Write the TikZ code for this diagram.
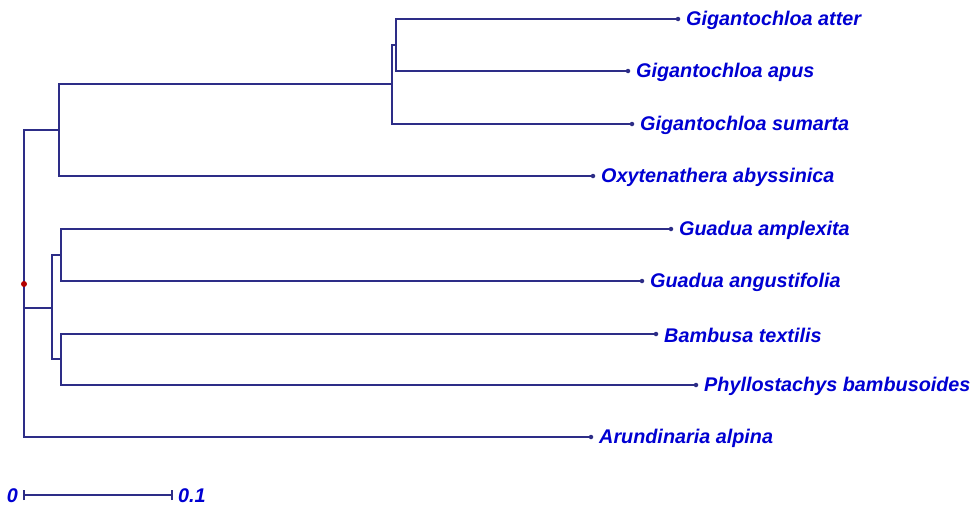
\documentclass[tikz,border=0pt]{standalone}
\usepackage{fontspec}
\setmainfont{Liberation Sans}
\definecolor{edge}{RGB}{45,45,135}
\definecolor{lab}{RGB}{0,0,210}
\definecolor{rootc}{RGB}{180,0,0}
\begin{document}
\begin{tikzpicture}[x=1pt,y=-1pt,
  branch/.style={draw=edge,line width=1.3pt},
  tipdot/.style={circle,fill=edge,inner sep=0pt,minimum size=4.5pt},
  taxon/.style={anchor=west,text=lab,font=\fontsize{19.8}{22}\selectfont\bfseries\itshape,inner sep=0pt},
  scalelab/.style={text=lab,font=\fontsize{19.8}{22}\selectfont\bfseries\itshape,inner sep=0pt}]
\useasboundingbox (0,0) rectangle (977,509);
% internal nodes
\coordinate (root) at (24,284);
\coordinate (A) at (59,130);
\coordinate (B) at (392,84);
\coordinate (C) at (396,45);
\coordinate (D) at (52,308);
\coordinate (E) at (61,255);
\coordinate (F) at (61,359);
% tips
\coordinate (atter) at (678,19);
\coordinate (apus) at (628,71);
\coordinate (sumarta) at (632,124);
\coordinate (oxy) at (593,176);
\coordinate (ampl) at (671,229);
\coordinate (angu) at (642,281);
\coordinate (bamb) at (656,334);
\coordinate (phyl) at (696,385);
\coordinate (arun) at (591,437);
% edges
\draw[branch] (root) |- (A);
\draw[branch] (root) |- (D);
\draw[branch] (root) |- (arun);
\draw[branch] (A) |- (B);
\draw[branch] (A) |- (oxy);
\draw[branch] (B) |- (C);
\draw[branch] (B) |- (sumarta);
\draw[branch] (C) |- (atter);
\draw[branch] (C) |- (apus);
\draw[branch] (D) |- (E);
\draw[branch] (D) |- (F);
\draw[branch] (E) |- (ampl);
\draw[branch] (E) |- (angu);
\draw[branch] (F) |- (bamb);
\draw[branch] (F) |- (phyl);
% tip dots and labels
\foreach \t/\txt in {atter/Gigantochloa atter, apus/Gigantochloa apus, sumarta/Gigantochloa sumarta, oxy/Oxytenathera abyssinica, ampl/Guadua amplexita, angu/Guadua angustifolia, bamb/Bambusa textilis, phyl/Phyllostachys bambusoides, arun/Arundinaria alpina}{
  \node[tipdot] (\t dot) at (\t) {};
  \node[taxon] (\t lab) at ([xshift=8pt,yshift=-1pt]\t) {\txt};
}
\node[circle,fill=rootc,inner sep=0pt,minimum size=6pt] (rootdot) at (root) {};
% scale bar
\coordinate (s0) at (24,495);
\coordinate (s1) at (172,495);
\draw[edge,line width=1.3pt] (s0) -- (s1);
\draw[edge,line width=1.3pt] ([yshift=-5pt]s0) -- ([yshift=5pt]s0);
\draw[edge,line width=1.3pt] ([yshift=-5pt]s1) -- ([yshift=5pt]s1);
\node[scalelab,anchor=east] (zero) at ([xshift=-6pt,yshift=-1pt]s0) {0};
\node[scalelab,anchor=west] (pointone) at ([xshift=6pt,yshift=-1pt]s1) {0.1};
\end{tikzpicture}
\end{document}
